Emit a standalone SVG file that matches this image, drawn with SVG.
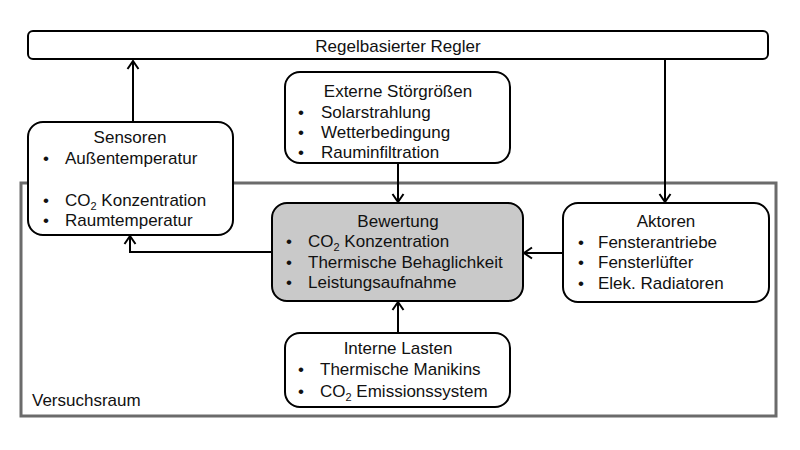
<svg xmlns="http://www.w3.org/2000/svg" width="800" height="450" viewBox="0 0 800 450">
<defs>
<style>
text{font-family:"Liberation Sans",Arial,sans-serif;font-size:17px;fill:#111}
.box{fill:#fff;stroke:#000;stroke-width:2}
.eval{fill:#c9c9c9;stroke:#000;stroke-width:2}
.room{fill:none;stroke:#6b6b6b;stroke-width:3}
.c{text-anchor:middle}
.sub{font-size:11px}
.conn path{fill:none;stroke:#000;stroke-width:2;marker-end:url(#ah)}
</style>
<marker id="ah" markerUnits="userSpaceOnUse" markerWidth="14" markerHeight="14" viewBox="0 0 14 14" refX="12" refY="7" orient="auto">
<path d="M4,1.5 L12,7 L4,12.5" fill="none" stroke="#000" stroke-width="2"/>
</marker>
</defs>
<rect width="800" height="450" fill="#fff"/>
<g id="versuchsraum">
<rect class="room" x="21" y="183" width="755" height="233"/>
<text x="32" y="406">Versuchsraum</text>
</g>
<g class="conn" id="connectors">
<path d="M133,122 V61"/>
<path d="M665,59 V202"/>
<path d="M398,163 V202"/>
<path d="M398,333 V302"/>
<path d="M563,253 H524"/>
<path d="M272,252 H130 V236"/>
</g>
<g id="regler">
<rect class="box" x="28" y="31" width="740" height="28" rx="5"/>
<text class="c" x="398" y="52">Regelbasierter Regler</text>
</g>
<g id="sensoren">
<rect class="box" x="28" y="122" width="205" height="113" rx="15"/>
<text class="c" x="130" y="143">Sensoren</text>
<text x="43" y="164">•</text><text x="65" y="164">Außentemperatur</text>
<text x="43" y="206">•</text><text x="65" y="206">CO<tspan class="sub" dy="4">2</tspan><tspan dy="-4"> Konzentration</tspan></text>
<text x="43" y="226">•</text><text x="65" y="226">Raumtemperatur</text>
</g>
<g id="externe">
<rect class="box" x="285" y="72" width="225" height="91" rx="15"/>
<text class="c" x="398" y="97">Externe Störgrößen</text>
<text x="298" y="118">•</text><text x="321" y="118">Solarstrahlung</text>
<text x="298" y="138">•</text><text x="321" y="138">Wetterbedingung</text>
<text x="298" y="158">•</text><text x="321" y="158">Rauminfiltration</text>
</g>
<g id="bewertung">
<rect class="eval" x="272" y="203" width="251" height="98" rx="15"/>
<text class="c" x="398" y="227">Bewertung</text>
<text x="286" y="247">•</text><text x="308" y="247">CO<tspan class="sub" dy="4">2</tspan><tspan dy="-4"> Konzentration</tspan></text>
<text x="286" y="268">•</text><text x="308" y="268">Thermische Behaglichkeit</text>
<text x="286" y="288">•</text><text x="308" y="288">Leistungsaufnahme</text>
</g>
<g id="aktoren">
<rect class="box" x="563" y="203" width="206" height="99" rx="15"/>
<text class="c" x="666" y="227">Aktoren</text>
<text x="578" y="248">•</text><text x="598" y="248">Fensterantriebe</text>
<text x="578" y="268">•</text><text x="598" y="268">Fensterlüfter</text>
<text x="578" y="289">•</text><text x="598" y="289">Elek. Radiatoren</text>
</g>
<g id="interne">
<rect class="box" x="285" y="333" width="225" height="74" rx="15"/>
<text class="c" x="398" y="354">Interne Lasten</text>
<text x="298" y="375">•</text><text x="320" y="375">Thermische Manikins</text>
<text x="298" y="397">•</text><text x="320" y="397">CO<tspan class="sub" dy="4">2</tspan><tspan dy="-4"> Emissionssystem</tspan></text>
</g>
</svg>
